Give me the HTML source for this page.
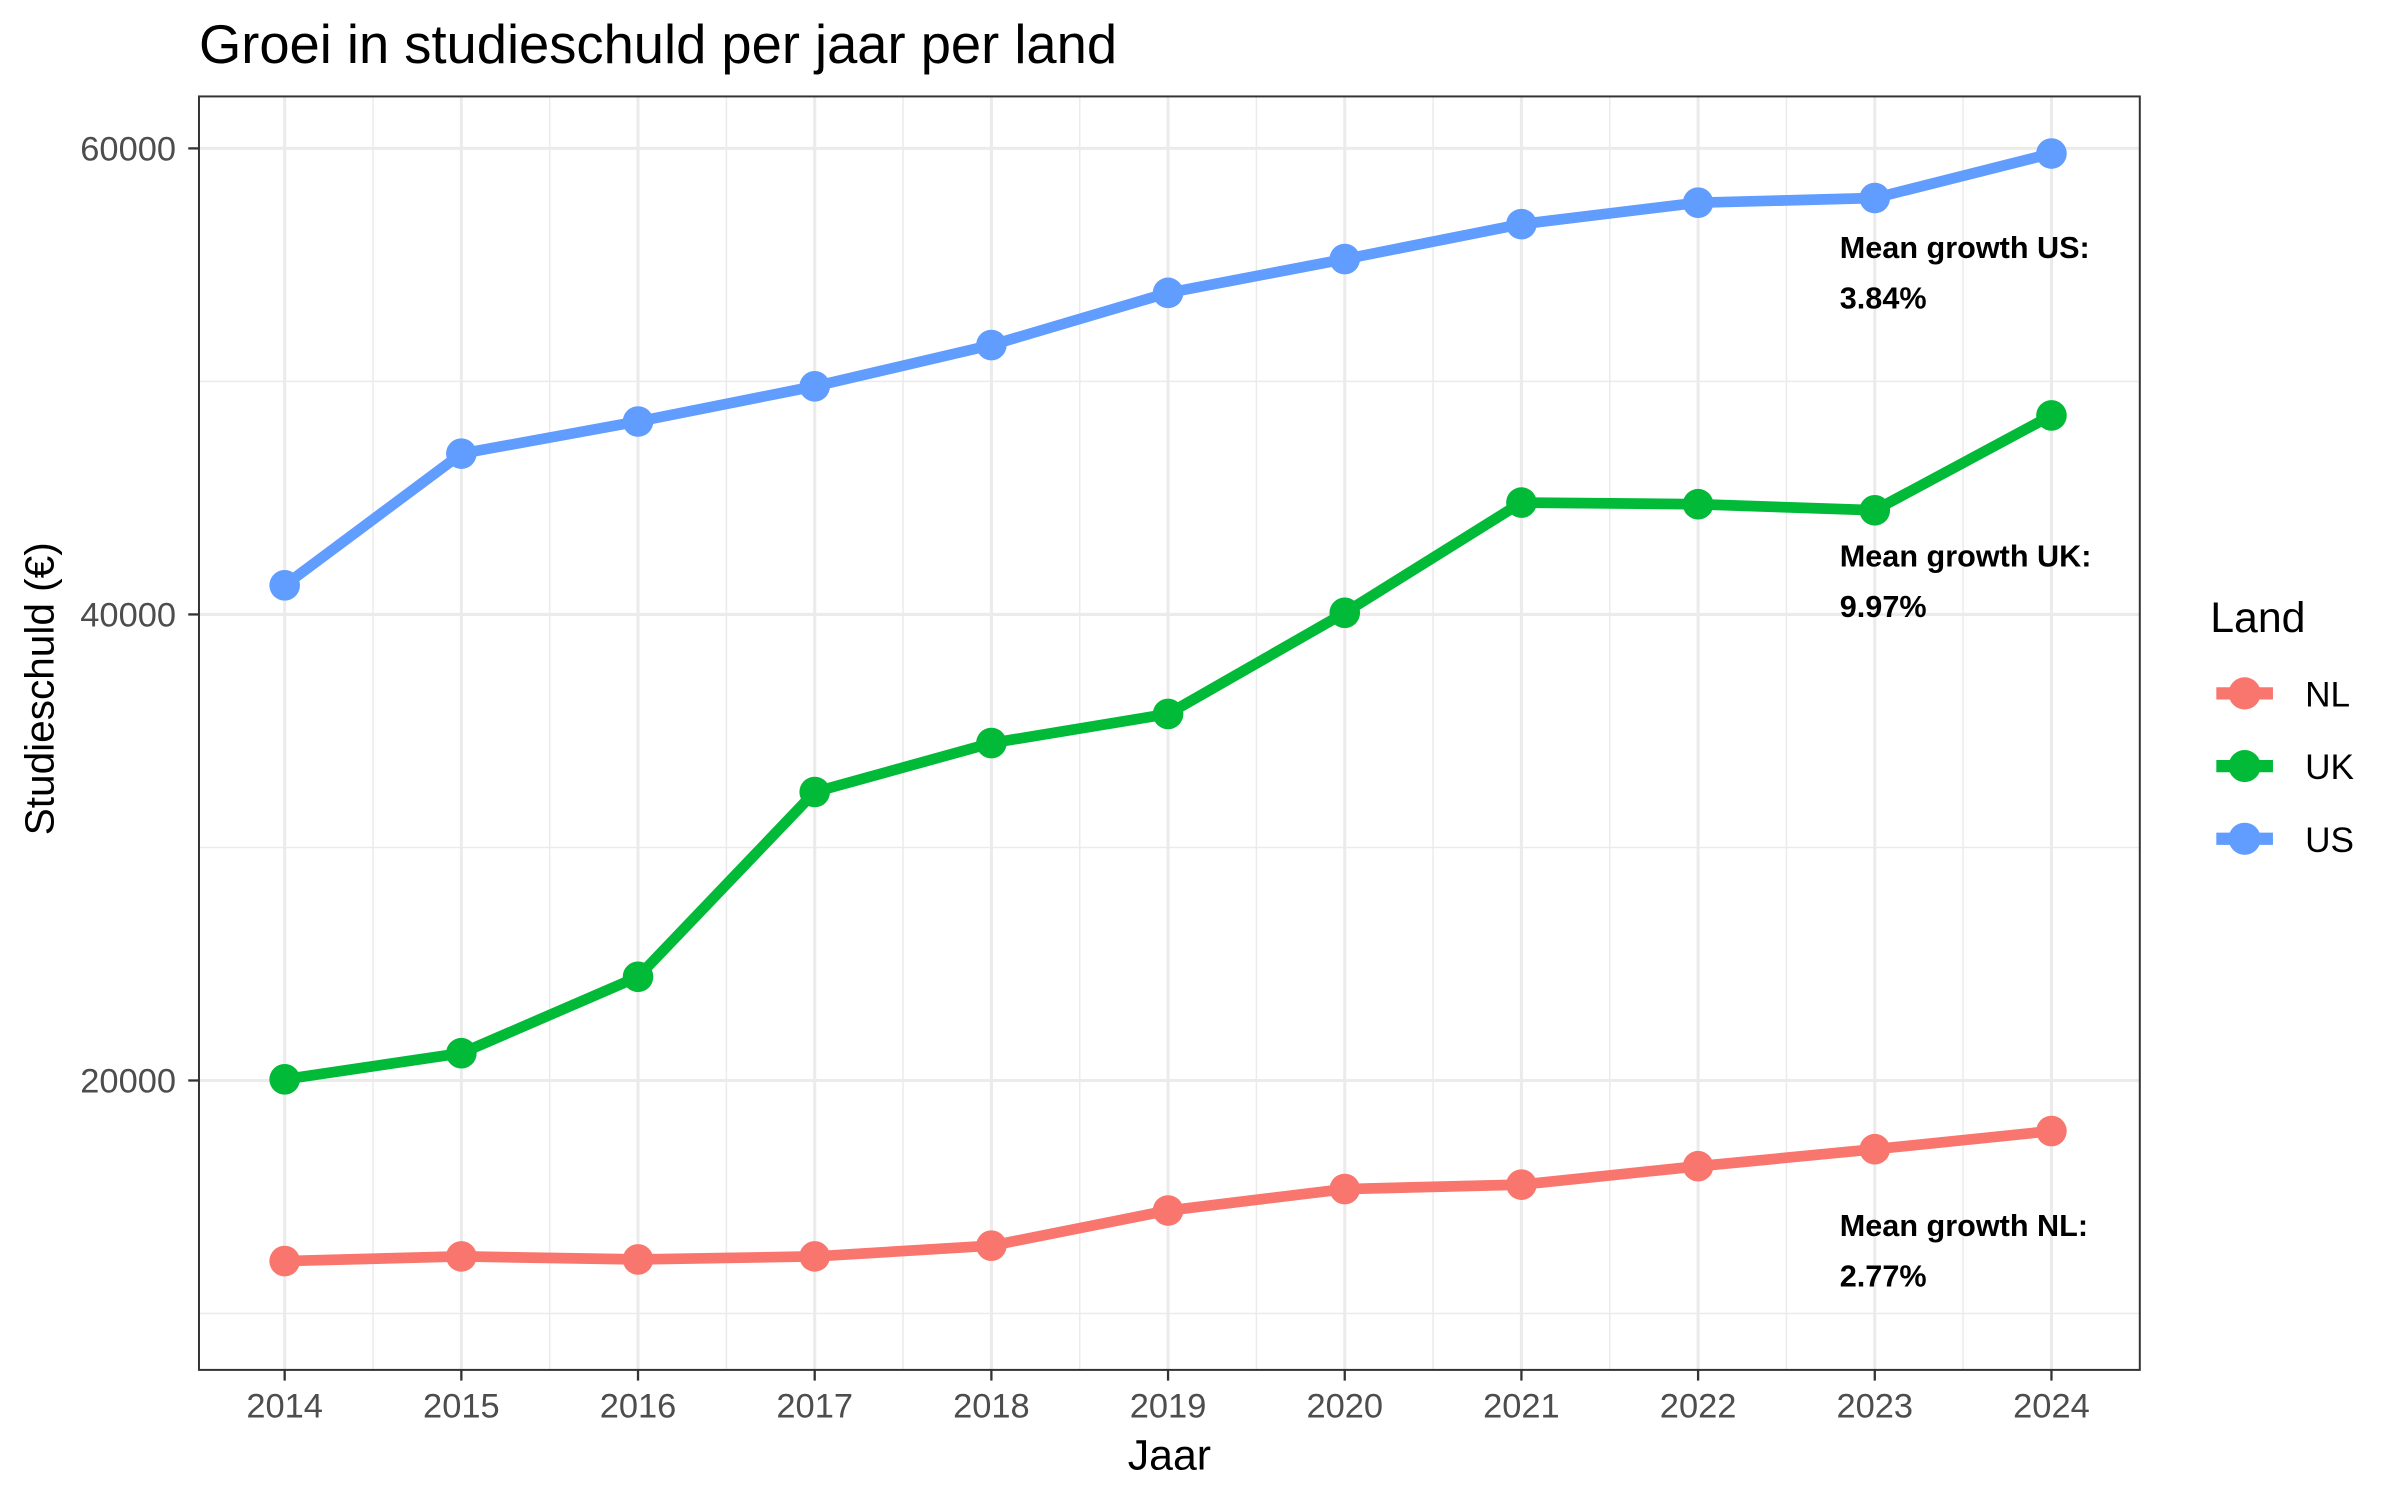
<!DOCTYPE html>
<html><head><meta charset="utf-8"><style>
html,body{margin:0;padding:0;background:#fff;}
svg{display:block;font-family:"Liberation Sans",Arial,sans-serif;}
</style></head><body>
<svg id="chart" width="2400" height="1500" viewBox="0 0 1568 980">
<rect width="1568" height="980" fill="#fff"/>
<text x="130" y="41" font-size="35.5" fill="#000">Groei in studieschuld per jaar per land</text>
<g id="grid"></g>
<g id="series"></g>
<rect x="130" y="63" width="1268" height="832" fill="none" stroke="#333" stroke-width="1.3"/>
<g id="axes"></g>
<text x="764" y="960" font-size="28" text-anchor="middle">Jaar</text>
<text transform="translate(35,450) rotate(-90)" font-size="26.5" text-anchor="middle">Studieschuld (€)</text>
<g>
<text x="1444" y="413" font-size="28">Land</text>
<g id="legend"></g>
</g>
<g id="annots" font-size="20" font-weight="bold"></g>
</svg>
<script>
const years=[2014,2015,2016,2017,2018,2019,2020,2021,2022,2023,2024];
const nlValues=[12250,12450,12320,12450,12910,14420,15340,15530,16320,17050,17830];
const ukValues=[20050,21170,24450,32380,34480,35730,40070,44800,44730,44470,48540];
const usValues=[41250,46900,48280,49790,51560,53800,55250,56750,57670,57870,59780];
const yTicks=[20000,40000,60000];
const yMinor=[10000,30000,50000];
const seriesNames=["NL","UK","US"];
const growthLabels=["2.77%","9.97%","3.84%"];
const colors=["#F8766D","#00BA38","#619CFF"];
const NS="http://www.w3.org/2000/svg";
const X0=130,X1=1398,Y0=895,Y1=63;
const xMin=2013.515,xMax=2024.5,yMin=7580,yMax=62230;
function xs(v){return X0+(v-xMin)/(xMax-xMin)*(X1-X0);}
function ys(v){return Y0-(v-yMin)/(yMax-yMin)*(Y0-Y1);}
function mk(tag,attrs,parent){const e=document.createElementNS(NS,tag);for(const k in attrs)e.setAttribute(k,attrs[k]);parent.appendChild(e);return e;}
const grid=document.getElementById('grid'),axes=document.getElementById('axes');
yMinor.forEach(v=>{const l=mk('line',{x1:X0,x2:X1,y1:ys(v),y2:ys(v),stroke:'#ebebeb','stroke-width':1},grid);
});
years.slice(0,-1).forEach(v=>{const l=mk('line',{x1:xs(v+0.5),x2:xs(v+0.5),y1:Y1,y2:Y0,stroke:'#ebebeb','stroke-width':1},grid);
});
yTicks.forEach(v=>{const y=ys(v);
const l=mk('line',{x1:X0,x2:X1,y1:y,y2:y,stroke:'#ebebeb','stroke-width':2},grid);

const t=mk('line',{x1:X0-7,x2:X0,y1:y,y2:y,stroke:'#333','stroke-width':1.5},axes);

const tx=mk('text',{x:X0-15,y:y+8,'font-size':22.5,'text-anchor':'end',fill:'#4d4d4d'},axes);tx.textContent=v;
});
years.forEach(v=>{const x=xs(v);
const l=mk('line',{x1:x,x2:x,y1:Y1,y2:Y0,stroke:'#ebebeb','stroke-width':2},grid);

const t=mk('line',{x1:x,x2:x,y1:Y0,y2:Y0+7,stroke:'#333','stroke-width':1.5},axes);

const tx=mk('text',{x:x,y:Y0+31,'font-size':22.5,'text-anchor':'middle',fill:'#4d4d4d'},axes);tx.textContent=v;
});
const series=document.getElementById('series');
[nlValues,ukValues,usValues].forEach((vals,i)=>{
const g=mk('g',{},series);

const p=mk('polyline',{points:vals.map((v,j)=>xs(years[j])+','+ys(v)).join(' '),fill:'none',stroke:colors[i],'stroke-width':7,'stroke-linejoin':'round'},g);

vals.forEach((v,j)=>{const c=mk('circle',{cx:xs(years[j]),cy:ys(v),r:10,fill:colors[i]},g);
});
});
const leg=document.getElementById('legend');
seriesNames.forEach((n,i)=>{const y=453+i*47.5;
const g=mk('g',{},leg);
mk('line',{x1:1448,x2:1485,y1:y,y2:y,stroke:colors[i],'stroke-width':8},g);
mk('circle',{cx:1466.5,cy:y,r:10.5,fill:colors[i]},g);
const t=mk('text',{x:1506,y:y+8.5,'font-size':23},g);t.textContent=n;});
const an=document.getElementById('annots');
const annotY=[807.5,370,168.7];
seriesNames.forEach((n,i)=>{
const t1=mk('text',{x:1202,y:annotY[i]},an);t1.textContent='Mean growth '+n+':';

const t2=mk('text',{x:1202,y:annotY[i]+33},an);t2.textContent=growthLabels[i];
});
</script>
</body></html>
